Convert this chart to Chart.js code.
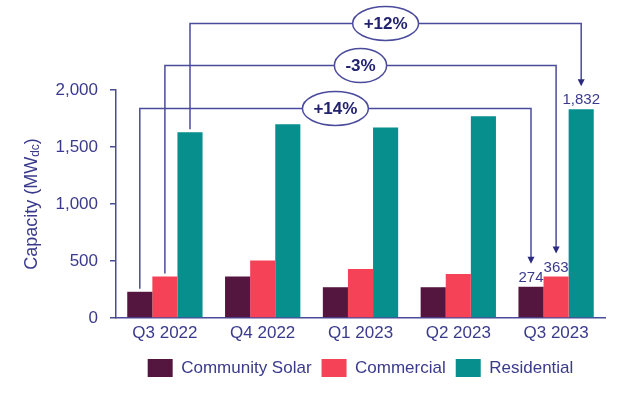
<!DOCTYPE html>
<html lang="en">
<head>
<meta charset="utf-8">
<title>Installed capacity by segment</title>
<script src="https://cdn.jsdelivr.net/npm/chart.js@4.4.0/dist/chart.umd.min.js"></script>
<style>
  html, body { margin: 0; padding: 0; background: #ffffff; }
  #wrap { width: 640px; height: 397px; }
</style>
</head>
<body>
<div id="wrap"><canvas id="myChart" width="640" height="397"></canvas></div>

<script>
  const quarters = ["Q3 2022", "Q4 2022", "Q1 2023", "Q2 2023", "Q3 2023"];
  const communitySolar = [230, 365, 270, 270, 274];
  const commercial = [365, 505, 430, 385, 363];
  const residential = [1630, 1700, 1670, 1770, 1832];
  const yTicks = [0, 500, 1000, 1500, 2000];

  // year-on-year change brackets, one per series (same order as datasets)
  const changeLabels = ["+14%", "-3%", "+12%"];
  const changeLevels = [1840, 2215, 2585]; // height of the bracket line, in MW

  const navy = "#3a3a8c";
  const lineColor = "#4b4b9c";
  const fontFamily = '"Liberation Sans", Arial, sans-serif';

  // y axis title with subscript "dc"
  const yTitle = {
    id: "yTitle",
    afterDraw(chart) {
      const ctx = chart.ctx;
      const area = chart.chartArea;
      const f1 = "18px " + fontFamily;
      const f2 = "12px " + fontFamily;
      const a = "Capacity (MW", b = "dc", c = ")";
      ctx.save();
      ctx.translate(32, (area.top + area.bottom) / 2);
      ctx.rotate(-Math.PI / 2);
      ctx.fillStyle = navy;
      ctx.textBaseline = "middle";
      ctx.textAlign = "left";
      ctx.font = f1; const wa = ctx.measureText(a).width; const wc = ctx.measureText(c).width;
      ctx.font = f2; const wb = ctx.measureText(b).width;
      let x = -(wa + wb + wc) / 2;
      ctx.font = f1; ctx.fillText(a, x, 0); x += wa;
      ctx.font = f2; ctx.fillText(b, x, 4); x += wb;
      ctx.font = f1; ctx.fillText(c, x, 0);
      ctx.restore();
    }
  };

  // value labels on the last quarter + the % change brackets
  const brackets = {
    id: "brackets",
    afterDatasetsDraw(chart) {
      const ctx = chart.ctx;
      const yScale = chart.scales.y;
      const last = quarters.length - 1;
      ctx.save();

      // labels above the latest bars
      ctx.font = "15px " + fontFamily;
      ctx.fillStyle = navy;
      ctx.textAlign = "center";
      ctx.textBaseline = "alphabetic";
      chart.data.datasets.forEach((ds, i) => {
        const bar = chart.getDatasetMeta(i).data[last];
        ctx.fillText(ds.data[last].toLocaleString("en-US"), bar.x, bar.y - 5);
      });

      ctx.strokeStyle = lineColor;
      ctx.lineWidth = 1.5;
      changeLabels.forEach((txt, i) => {
        const meta = chart.getDatasetMeta(i);
        const a = meta.data[0];
        const b = meta.data[last];
        const ly = Math.round(yScale.getPixelForValue(changeLevels[i])) + 0.5;
        const tip = b.y - 23;

        ctx.beginPath();
        ctx.moveTo(a.x, a.y - 3);
        ctx.lineTo(a.x, ly);
        ctx.lineTo(b.x, ly);
        ctx.lineTo(b.x, tip - 6);
        ctx.stroke();

        // arrow head
        ctx.fillStyle = "#2a2a80";
        ctx.beginPath();
        ctx.moveTo(b.x - 3.5, tip - 7);
        ctx.lineTo(b.x + 3.5, tip - 7);
        ctx.lineTo(b.x, tip);
        ctx.closePath();
        ctx.fill();

        // oval with the change
        ctx.font = "bold 17px " + fontFamily;
        const tw = ctx.measureText(txt).width;
        const cx = (a.x + b.x) / 2;
        ctx.beginPath();
        ctx.ellipse(cx, ly, tw / 2 + 11, 17, 0, 0, Math.PI * 2);
        ctx.fillStyle = "#ffffff";
        ctx.fill();
        ctx.stroke();
        ctx.fillStyle = "#22226e";
        ctx.textBaseline = "middle";
        ctx.fillText(txt, cx, ly + 1);
        ctx.textBaseline = "alphabetic";
      });
      ctx.restore();
    }
  };

  new Chart("myChart", {
    type: "bar",
    data: {
      labels: quarters,
      datasets: [
        { label: "Community Solar", data: communitySolar, backgroundColor: "#54163e" },
        { label: "Commercial", data: commercial, backgroundColor: "#f64257" },
        { label: "Residential", data: residential, backgroundColor: "#078f8e" }
      ]
    },
    options: {
      responsive: false,
      animation: false,
      events: [],
      layout: { padding: { top: 90, right: 35, bottom: 10, left: 0 } },
      datasets: { bar: { categoryPercentage: 0.77, barPercentage: 1 } },
      scales: {
        x: {
          grid: { display: false, drawTicks: false },
          border: { display: true, color: lineColor, width: 1.5 },
          ticks: { color: navy, font: { size: 17, family: fontFamily }, padding: 5 },
          afterFit(scale) { scale.height = 31; }
        },
        y: {
          min: 0,
          max: 2000,
          afterBuildTicks(scale) { scale.ticks = yTicks.map(v => ({ value: v })); },
          grid: { display: true, drawOnChartArea: false, drawTicks: true, tickLength: 6, color: lineColor, lineWidth: 1.5 },
          border: { display: true, color: lineColor, width: 1.5 },
          ticks: {
            color: navy,
            font: { size: 17, family: fontFamily },
            padding: 12,
            callback: v => v.toLocaleString("en-US")
          },
          afterFit(scale) { scale.width = 116; }
        }
      },
      plugins: {
        legend: {
          position: "bottom",
          fullSize: false,
          labels: {
            boxWidth: 25,
            boxHeight: 18,
            padding: 10,
            color: navy,
            font: { size: 17, family: fontFamily }
          }
        },
        tooltip: { enabled: false }
      }
    },
    plugins: [yTitle, brackets]
  });
</script>
</body>
</html>
